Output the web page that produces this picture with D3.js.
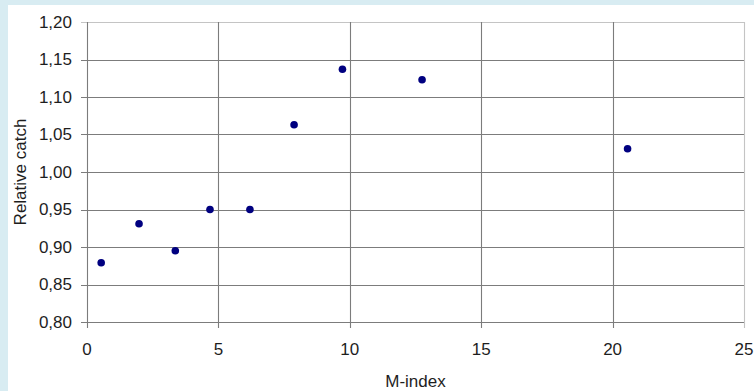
<!DOCTYPE html>
<html>
<head>
<meta charset="utf-8">
<script src="https://cdn.jsdelivr.net/npm/d3@7"></script>
<style>
  html, body { margin: 0; padding: 0; background: #d8ecf2; }
  svg { display: block; }
  text { font-family: "Liberation Sans", Arial, sans-serif; fill: #1e1e1e; }
</style>
</head>
<body>
<svg id="chart" width="754" height="391"></svg>
<script>
// M-index vs relative catch
const mIndex = [0.54, 1.98, 3.36, 4.68, 6.2, 7.88, 9.72, 12.75, 20.57];
const relativeCatch = [0.879, 0.931, 0.895, 0.950, 0.950, 1.063, 1.137, 1.123, 1.031];
const xTicks = [0, 5, 10, 15, 20, 25];
const yTicks = [0.80, 0.85, 0.90, 0.95, 1.00, 1.05, 1.10, 1.15, 1.20];

(function () {
  const svg = d3.select("#chart");
  const W = 754, H = 391;

  // white panel inside the light blue frame
  svg.append("rect").attr("x", 8).attr("y", 5).attr("width", W - 8).attr("height", H - 5).attr("fill", "#ffffff");

  const pL = 87, pR = 744, pT = 22, pB = 322;
  const x = d3.scaleLinear().domain([0, 25]).range([pL, pR]);
  const y = d3.scaleLinear().domain([0.80, 1.20]).range([pB, pT]);

  const fmt = d => d.toFixed(2).replace(".", ",");

  // horizontal grid
  svg.append("g").selectAll("line").data(yTicks).join("line")
    .attr("x1", pL - 6).attr("x2", pR)
    .attr("y1", d => Math.round(y(d)) + 0.5).attr("y2", d => Math.round(y(d)) + 0.5)
    .attr("stroke", d => d === 1.20 ? "#c4c4c4" : "#7c7c7c").attr("stroke-width", 1.1);

  // vertical grid
  svg.append("g").selectAll("line").data(xTicks).join("line")
    .attr("x1", d => Math.round(x(d)) + 0.5).attr("x2", d => Math.round(x(d)) + 0.5)
    .attr("y1", pT).attr("y2", pB + 6)
    .attr("stroke", d => d === 25 ? "#c4c4c4" : "#7c7c7c").attr("stroke-width", 1.1);

  // y tick labels
  svg.append("g").selectAll("text").data(yTicks).join("text")
    .attr("x", 72).attr("y", d => y(d)).attr("dy", "0.35em")
    .attr("text-anchor", "end").attr("font-size", 17)
    .text(fmt);

  // x tick labels
  svg.append("g").selectAll("text").data(xTicks).join("text")
    .attr("x", d => x(d)).attr("y", 355)
    .attr("text-anchor", "middle").attr("font-size", 17)
    .text(d => d);

  // axis titles
  svg.append("text").attr("x", (pL + pR) / 2).attr("y", 387)
    .attr("text-anchor", "middle").attr("font-size", 17).text("M-index");
  svg.append("text").attr("transform", `translate(26,${(pT + pB) / 2}) rotate(-90)`)
    .attr("text-anchor", "middle").attr("font-size", 17).text("Relative catch");

  // points
  svg.append("g").selectAll("circle").data(mIndex).join("circle")
    .attr("cx", d => x(d)).attr("cy", (d, i) => y(relativeCatch[i]))
    .attr("r", 3.8).attr("fill", "#000080");
})();
</script>
</body>
</html>
